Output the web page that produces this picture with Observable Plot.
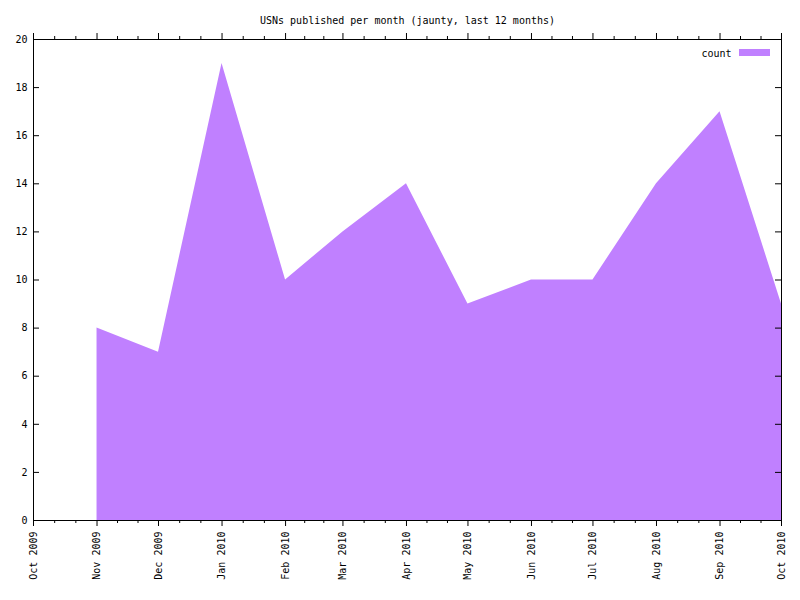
<!DOCTYPE html>
<html>
<head>
<meta charset="utf-8">
<script src="https://cdn.jsdelivr.net/npm/d3@7"></script>
<script src="https://cdn.jsdelivr.net/npm/@observablehq/plot@0.6"></script>
<style>
  html, body { margin: 0; padding: 0; background: #fff; }
</style>
</head>
<body>
<div id="chart"></div>
<script>
const title = "USNs published per month (jaunty, last 12 months)";
const seriesName = "count";
const months = ["2009-11", "2009-12", "2010-01", "2010-02", "2010-03", "2010-04",
                "2010-05", "2010-06", "2010-07", "2010-08", "2010-09", "2010-10"];
const counts = [8, 7, 19, 10, 12, 14, 9, 10, 10, 14, 17, 9];
const tickMonths = ["2009-10", "2009-11", "2009-12", "2010-01", "2010-02", "2010-03", "2010-04",
                    "2010-05", "2010-06", "2010-07", "2010-08", "2010-09", "2010-10"];
const yTicks = [0, 2, 4, 6, 8, 10, 12, 14, 16, 18, 20];

const parse = d3.utcParse("%Y-%m");
const data = months.map((m, i) => ({date: parse(m), count: counts[i]}));
const majors = tickMonths.map(parse);
const minors = [];
for (let i = 0; i + 1 < majors.length; i++) {
  const a = +majors[i], b = +majors[i + 1];
  minors.push(new Date(a + (b - a) / 3), new Date(a + 2 * (b - a) / 3));
}

const W = 800, H = 600;
const mL = 33, mR = 19, mT = 39, mB = 80;
const innerH = H - mT - mB;
const innerW = W - mL - mR;
const fill = "#c080ff";

const chart = Plot.plot({
  width: W,
  height: H,
  marginLeft: mL,
  marginRight: mR,
  marginTop: mT,
  marginBottom: mB,
  style: {fontFamily: "'DejaVu Sans Mono', monospace", fontSize: "10px", background: "#fff", overflow: "visible"},
  x: {type: "utc", domain: [majors[0], majors[majors.length - 1]]},
  y: {domain: [0, 20]},
  marks: [
    Plot.areaY(data, {x: "date", y: "count", fill: fill, fillOpacity: 1, curve: "linear"}),
    // x major ticks, outward bottom and top
    Plot.ruleX(majors, {x: d => d, stroke: "black", insetTop: innerH, insetBottom: -6}),
    Plot.ruleX(majors, {x: d => d, stroke: "black", insetBottom: innerH, insetTop: -6}),
    // x minor ticks
    Plot.ruleX(minors, {x: d => d, stroke: "black", insetTop: innerH, insetBottom: -3}),
    Plot.ruleX(minors, {x: d => d, stroke: "black", insetBottom: innerH, insetTop: -3}),
    // y ticks, inward left and right
    Plot.ruleY(yTicks, {y: d => d, stroke: "black", insetRight: innerW - 6}),
    Plot.ruleY(yTicks, {y: d => d, stroke: "black", insetLeft: innerW - 6}),
    Plot.frame({stroke: "black", strokeWidth: 1}),
    Plot.axisY({ticks: yTicks, tickSize: 0, tickPadding: 6, label: null, fill: "black"}),
    Plot.axisX({ticks: majors, tickSize: 0, tickPadding: 11, tickRotate: -90,
                tickFormat: d3.utcFormat("%b %Y"), label: null, fill: "black"}),
    Plot.text([title], {frameAnchor: "top", lineAnchor: "middle", dy: -19, fill: "black"}),
    Plot.text([seriesName], {frameAnchor: "top-right", lineAnchor: "middle", dx: -50, dy: 14, textAnchor: "end", fill: "black"})
  ]
});

// legend swatch
const svg = d3.select(chart);
svg.append("rect")
  .attr("x", 739).attr("y", 49).attr("width", 31).attr("height", 7)
  .attr("fill", fill);

document.getElementById("chart").appendChild(chart);
</script>
</body>
</html>
